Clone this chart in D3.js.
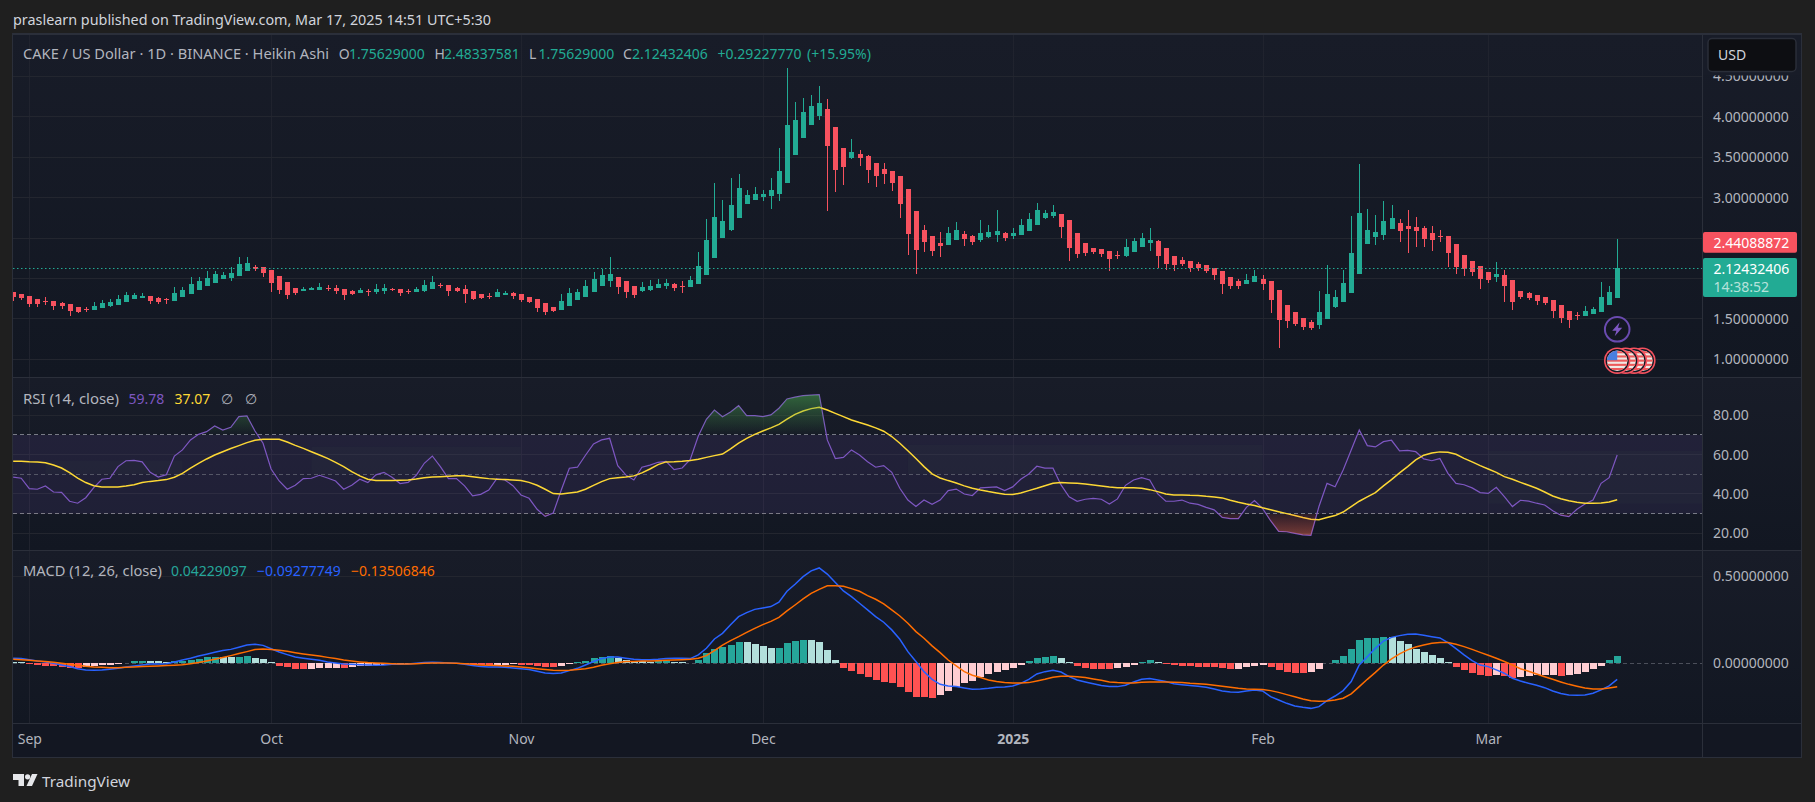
<![CDATA[<!DOCTYPE html>
<html><head><meta charset="utf-8">
<style>html,body{margin:0;padding:0;background:#1f1f1f;overflow:hidden}svg{display:block}text{font-family:"Noto Sans",sans-serif}</style>
<script src="https://cdnjs.cloudflare.com/ajax/libs/d3/7.8.5/d3.min.js"></script>
</head><body><svg id="c" width="1815" height="802"></svg>
<script>
const firstDay = "2024-08-30";
const open = [
1.831,1.806,1.781,1.744,1.720,1.720,1.695,1.683,1.645,1.621,
1.608,1.633,1.658,1.670,1.707,1.744,1.757,1.781,1.757,1.744,
1.720,1.769,1.806,1.856,1.905,1.942,1.992,2.004,2.029,2.090,
2.140,2.140,2.103,2.029,1.955,1.880,1.843,1.856,1.856,1.880,
1.880,1.868,1.843,1.819,1.843,1.831,1.843,1.868,1.868,1.843,
1.831,1.844,1.869,1.918,1.918,1.881,1.869,1.844,1.807,1.782,
1.770,1.794,1.819,1.807,1.770,1.745,1.696,1.646,1.609,1.658,
1.733,1.770,1.831,1.906,1.967,2.017,1.967,1.906,1.844,1.856,
1.881,1.906,1.930,1.906,1.893,1.930,2.042,2.252,2.499,2.598,
2.746,2.919,2.969,3.006,3.018,3.043,3.179,3.525,3.735,3.896,
4.006,4.093,3.870,3.611,3.487,3.537,3.512,3.425,3.351,3.326,
3.265,3.104,2.832,2.597,2.523,2.437,2.412,2.474,2.548,2.523,
2.474,2.511,2.535,2.560,2.523,2.535,2.585,2.659,2.746,2.770,
2.795,2.721,2.560,2.437,2.375,2.362,2.338,2.288,2.276,2.325,
2.387,2.437,2.461,2.375,2.276,2.226,2.214,2.177,2.165,2.128,
2.090,2.016,1.967,1.930,1.954,1.991,1.967,1.855,1.670,1.583,
1.509,1.460,1.423,1.497,1.645,1.707,1.818,2.053,2.424,2.510,
2.535,2.609,2.684,2.646,2.634,2.622,2.560,2.523,2.523,2.424,
2.288,2.214,2.152,2.078,2.016,2.041,1.979,1.843,1.818,1.794,
1.769,1.732,1.670,1.596,1.546,1.534,1.559,1.584,1.670,1.756];
const high = [
1.831,1.806,1.781,1.744,1.769,1.720,1.707,1.683,1.645,1.645,
1.707,1.732,1.744,1.794,1.831,1.819,1.819,1.781,1.769,1.757,
1.893,1.893,2.016,2.016,2.090,2.090,2.078,2.140,2.264,2.264,
2.165,2.140,2.103,2.029,1.955,1.880,1.893,1.893,1.942,1.917,
1.917,1.868,1.856,1.880,1.868,1.930,1.930,1.880,1.868,1.868,
1.893,1.980,2.029,1.943,1.918,1.893,1.918,1.844,1.807,1.819,
1.869,1.844,1.831,1.807,1.770,1.745,1.696,1.646,1.807,1.881,
1.869,1.980,2.079,2.116,2.264,2.017,1.967,1.906,1.955,1.980,
1.992,1.992,1.943,1.967,2.029,2.326,2.734,3.179,2.969,3.241,
3.290,3.092,3.129,3.092,3.241,3.611,4.600,4.180,4.229,4.266,
4.377,4.216,3.870,3.611,3.722,3.586,3.524,3.425,3.425,3.326,
3.265,3.104,2.832,2.659,2.523,2.572,2.634,2.696,2.585,2.535,
2.721,2.659,2.844,2.572,2.622,2.733,2.807,2.931,2.844,2.906,
2.795,2.721,2.560,2.437,2.375,2.362,2.338,2.338,2.486,2.498,
2.560,2.622,2.474,2.375,2.276,2.264,2.214,2.202,2.165,2.128,
2.090,2.016,1.991,2.053,2.103,2.041,1.967,1.855,1.670,1.583,
1.509,1.485,1.843,2.164,1.855,2.103,2.770,3.413,2.857,2.782,
2.955,2.906,2.733,2.844,2.758,2.646,2.646,2.597,2.523,2.424,
2.288,2.214,2.152,2.078,2.201,2.103,1.979,1.843,1.831,1.794,
1.769,1.732,1.670,1.596,1.583,1.658,1.645,1.954,1.905,2.483];
const low = [
1.720,1.732,1.645,1.645,1.670,1.608,1.621,1.534,1.571,1.584,
1.608,1.633,1.645,1.670,1.707,1.744,1.757,1.683,1.683,1.683,
1.720,1.769,1.806,1.856,1.905,1.942,1.992,1.967,2.029,2.090,
2.090,2.016,1.831,1.806,1.744,1.794,1.843,1.856,1.856,1.843,
1.806,1.732,1.794,1.819,1.781,1.806,1.806,1.843,1.781,1.806,
1.831,1.831,1.869,1.881,1.782,1.831,1.696,1.733,1.745,1.745,
1.770,1.794,1.745,1.708,1.696,1.584,1.547,1.584,1.609,1.658,
1.733,1.770,1.831,1.906,1.893,1.807,1.757,1.757,1.831,1.844,
1.881,1.869,1.844,1.819,1.893,1.930,2.042,2.252,2.499,2.585,
2.746,2.919,2.969,2.956,2.857,2.956,3.179,3.525,3.735,3.896,
3.957,2.832,3.067,3.153,3.475,3.388,3.178,3.129,3.166,3.079,
2.746,2.288,2.053,2.325,2.276,2.263,2.412,2.474,2.399,2.412,
2.449,2.498,2.449,2.461,2.486,2.535,2.585,2.659,2.733,2.746,
2.498,2.214,2.251,2.276,2.301,2.264,2.090,2.239,2.264,2.325,
2.387,2.338,2.128,2.103,2.090,2.152,2.078,2.090,2.066,1.979,
1.806,1.868,1.868,1.930,1.954,1.855,1.571,1.139,1.386,1.410,
1.361,1.361,1.373,1.497,1.633,1.707,1.818,2.053,2.424,2.412,
2.473,2.609,2.449,2.313,2.387,2.387,2.337,2.449,2.140,2.053,
2.028,2.028,1.868,1.942,1.954,1.707,1.608,1.744,1.732,1.670,
1.670,1.509,1.448,1.386,1.485,1.534,1.559,1.584,1.670,1.756];
const close = [
1.769,1.757,1.683,1.683,1.707,1.658,1.658,1.596,1.584,1.608,
1.658,1.695,1.707,1.744,1.794,1.794,1.781,1.720,1.707,1.732,
1.819,1.856,1.930,1.967,2.004,2.053,2.041,2.066,2.177,2.189,
2.115,2.066,1.942,1.856,1.794,1.819,1.868,1.880,1.893,1.876,
1.843,1.794,1.806,1.856,1.835,1.868,1.880,1.856,1.819,1.835,
1.868,1.918,1.955,1.910,1.844,1.844,1.807,1.745,1.757,1.774,
1.831,1.819,1.782,1.733,1.708,1.634,1.584,1.597,1.720,1.819,
1.831,1.906,1.992,2.042,2.054,1.893,1.831,1.794,1.893,1.906,
1.930,1.943,1.881,1.897,1.980,2.153,2.474,2.758,2.709,2.907,
3.117,3.030,3.043,3.043,3.092,3.327,3.896,3.957,4.056,4.130,
4.167,3.635,3.339,3.376,3.561,3.487,3.339,3.265,3.289,3.178,
2.919,2.548,2.350,2.449,2.338,2.399,2.560,2.597,2.486,2.449,
2.560,2.572,2.585,2.498,2.560,2.659,2.733,2.844,2.807,2.820,
2.634,2.375,2.301,2.313,2.325,2.301,2.239,2.280,2.387,2.461,
2.498,2.474,2.276,2.177,2.165,2.177,2.128,2.128,2.090,2.041,
1.930,1.905,1.905,1.979,2.028,1.930,1.732,1.485,1.472,1.435,
1.398,1.386,1.583,1.806,1.769,1.942,2.313,2.807,2.597,2.572,
2.708,2.745,2.585,2.609,2.585,2.486,2.473,2.515,2.313,2.140,
2.115,2.078,1.991,1.979,2.053,1.905,1.707,1.769,1.757,1.720,
1.695,1.596,1.509,1.485,1.538,1.596,1.621,1.769,1.831,2.124];
const rsi = [
48.6,48.0,42.7,42.4,44.1,41.0,40.8,36.3,35.3,38.1,
43.2,47.5,48.0,53.9,56.9,57.1,56.3,51.0,48.6,49.8,
59.3,62.4,67.5,70.3,71.7,74.6,72.5,73.9,79.3,79.7,
72.0,65.8,52.7,46.6,42.4,44.4,47.8,48.0,49.5,48.1,
46.6,42.4,44.4,47.5,45.8,49.7,51.0,48.5,45.3,45.9,
49.5,55.6,59.3,53.9,47.8,47.8,44.1,39.0,39.8,42.0,
47.8,47.1,44.2,39.5,37.8,32.2,28.6,30.3,42.0,53.1,
53.6,59.7,65.4,67.5,68.3,54.4,49.7,47.1,53.6,54.7,
56.1,56.6,52.4,53.2,57.6,69.5,78.0,82.7,79.3,81.7,
84.9,79.8,79.8,79.3,80.2,83.6,88.3,89.2,90.0,90.3,
90.5,67.5,58.0,58.6,62.4,59.8,56.4,53.6,54.4,51.0,
42.9,36.9,33.6,36.9,34.7,36.9,41.7,42.5,40.0,39.2,
43.1,43.4,43.6,41.7,43.6,47.5,50.2,54.1,53.1,53.1,
44.6,38.6,36.3,37.3,37.8,37.3,34.9,37.5,44.4,47.1,
48.3,47.1,40.0,36.3,36.3,36.9,35.3,34.7,33.2,31.9,
28.1,27.5,27.5,33.2,36.6,32.7,26.4,21.0,20.8,20.0,
19.2,19.0,33.6,45.4,43.7,52.2,62.4,72.5,64.6,63.9,
66.6,67.3,61.9,62.2,61.5,57.8,56.9,58.0,50.5,45.4,
44.7,43.1,40.7,40.3,43.4,38.6,33.6,36.8,36.4,35.3,
34.4,31.5,29.2,28.5,32.2,34.9,36.9,45.4,48.3,59.78];
const rsiMa = [
56.6,56.6,56.4,56.3,55.9,54.7,53.2,50.8,48.1,45.8,
44.2,43.6,43.6,43.6,44.1,44.7,45.8,46.4,46.8,47.3,
48.5,50.5,53.1,55.6,57.8,59.8,61.5,63.1,64.6,66.1,
67.3,67.8,67.8,67.8,66.4,64.7,63.2,61.5,59.8,58.1,
56.1,53.9,51.4,49.2,47.5,46.8,46.8,46.8,47.0,47.1,
47.6,48.3,48.6,48.8,49.0,49.2,49.2,48.8,48.3,47.8,
47.5,47.3,47.1,46.8,45.9,44.4,42.4,40.2,40.0,40.5,
41.0,42.4,44.4,46.3,47.8,48.3,48.6,49.2,50.7,52.7,
54.9,56.3,56.4,56.6,57.0,57.6,58.6,59.5,60.3,62.9,
65.8,68.3,70.3,72.0,73.6,75.4,78.0,80.5,82.2,83.4,
84.1,82.7,81.0,79.3,77.6,76.3,75.1,73.6,71.9,69.2,
65.8,62.0,58.0,53.9,50.2,48.1,46.8,45.6,44.1,42.9,
42.0,41.2,40.5,39.8,39.7,40.5,41.7,42.9,44.2,45.4,
45.8,45.6,45.4,45.1,44.6,44.1,43.6,43.2,43.2,43.1,
42.9,42.2,41.2,40.0,39.5,39.5,39.3,39.2,38.8,38.5,
38.0,36.8,35.8,34.9,34.1,33.0,32.0,31.0,30.0,29.0,
28.0,27.1,26.9,28.0,29.0,30.8,33.6,36.3,38.5,40.7,
44.1,47.3,50.7,53.9,57.3,59.7,60.8,61.4,61.2,60.2,
58.1,56.3,54.4,52.7,51.0,48.8,47.5,45.9,44.4,42.9,
41.0,39.0,37.6,36.6,35.8,35.3,35.3,35.4,35.9,37.07];
const macd = [
.029,.027,.021,.013,.008,0,-.010,-.019,-.031,-.038,
-.040,-.038,-.034,-.029,-.021,-.015,-.010,-.004,-.004,-.002,
.008,.019,.029,.042,.052,.063,.073,.080,.092,.105,
.109,.103,.084,.065,.050,.036,.029,.023,.017,.008,
.002,-.004,-.006,-.008,-.010,-.011,-.010,-.006,-.006,-.004,
0,.004,.006,.004,.002,0,-.006,-.013,-.019,-.021,
-.021,-.023,-.027,-.031,-.036,-.046,-.056,-.059,-.056,-.042,
-.029,-.010,.010,.027,.036,.036,.029,.023,.021,.021,
.023,.027,.029,.029,.027,.048,.086,.140,.172,.222,
.268,.291,.310,.318,.326,.351,.414,.454,.498,.531,
.548,.513,.464,.416,.383,.345,.307,.268,.236,.192,
.138,.067,.010,-.048,-.092,-.121,-.130,-.134,-.142,-.149,
-.148,-.144,-.138,-.136,-.130,-.115,-.092,-.061,-.048,-.040,
-.050,-.077,-.096,-.107,-.117,-.128,-.134,-.134,-.126,-.107,
-.092,-.088,-.096,-.105,-.117,-.123,-.128,-.132,-.138,-.148,
-.159,-.165,-.167,-.159,-.153,-.159,-.192,-.211,-.230,-.245,
-.253,-.259,-.249,-.215,-.188,-.157,-.105,-.010,.038,.086,
.128,.149,.159,.167,.169,.161,.153,.146,.119,.084,
.048,.015,-.010,-.019,-.038,-.057,-.086,-.102,-.115,-.126,
-.140,-.159,-.174,-.182,-.184,-.182,-.172,-.153,-.130,-.0928];
const signal = [
.023,.021,.017,.013,.010,.006,0,-.006,-.011,-.017,
-.021,-.023,-.025,-.025,-.023,-.021,-.019,-.017,-.015,-.013,
-.011,-.008,-.002,.004,.013,.023,.033,.044,.056,.067,
.079,.082,.080,.075,.069,.061,.054,.048,.042,.034,
.027,.019,.013,.008,.004,.002,0,-.002,-.004,-.004,
-.002,0,.002,.002,.002,0,-.002,-.006,-.010,-.011,
-.013,-.015,-.017,-.021,-.025,-.031,-.036,-.040,-.042,-.040,
-.036,-.031,-.023,-.011,-.002,.004,.010,.011,.013,.013,
.015,.017,.019,.021,.023,.029,.044,.073,.105,.130,
.153,.178,.201,.222,.241,.264,.301,.335,.370,.402,
.425,.445,.446,.443,.429,.414,.389,.368,.341,.307,
.272,.230,.182,.144,.100,.061,.019,-.015,-.048,-.069,
-.082,-.096,-.105,-.111,-.113,-.113,-.111,-.102,-.092,-.080,
-.075,-.075,-.077,-.082,-.090,-.098,-.107,-.111,-.113,-.113,
-.109,-.107,-.107,-.107,-.109,-.111,-.115,-.117,-.121,-.126,
-.132,-.138,-.144,-.148,-.149,-.151,-.157,-.167,-.180,-.192,
-.205,-.215,-.218,-.217,-.211,-.201,-.176,-.134,-.092,-.052,
-.010,.025,.054,.077,.094,.105,.115,.119,.119,.109,
.096,.080,.063,.046,.029,.010,-.010,-.031,-.046,-.061,
-.077,-.092,-.107,-.121,-.132,-.142,-.148,-.148,-.142,-.135];
const hist = [
.0096,.0058,-.0058,-.0096,-.0154,-.0173,-.0211,-.0250,-.0288,-.0192,
-.0154,-.0115,-.0077,-.0038,.0038,.0115,.0154,.0134,.0115,.0077,
.0115,.0154,.0211,.0269,.0346,.0365,.0355,.0346,.0384,.0422,
.0307,.0230,.0058,-.0154,-.0230,-.0307,-.0346,-.0307,-.0288,-.0278,
-.0269,-.0288,-.0230,-.0173,-.0154,-.0115,-.0096,-.0058,-.0038,-.0019,
.0010,.0019,.0038,.0019,.0010,-.0019,-.0038,-.0058,-.0096,-.0115,
-.0096,-.0077,-.0067,-.0096,-.0115,-.0173,-.0211,-.0230,-.0154,-.0058,
.0058,.0154,.0288,.0365,.0403,.0326,.0211,.0115,.0106,.0096,
.0106,.0115,.0096,.0077,.0038,.0192,.0576,.0806,.0922,.1056,
.1229,.1210,.1114,.1018,.0883,.0902,.1152,.1267,.1344,.1325,
.1229,.0768,.0192,-.0250,-.0422,-.0614,-.0806,-.0960,-.1075,-.1152,
-.1344,-.1651,-.1920,-.1939,-.1978,-.1824,-.1594,-.1382,-.1152,-.0998,
-.0806,-.0614,-.0480,-.0365,-.0250,-.0096,.0134,.0288,.0365,.0422,
.0307,.0077,-.0154,-.0250,-.0326,-.0326,-.0326,-.0288,-.0192,-.0096,
.0058,.0211,.0077,-.0058,-.0115,-.0134,-.0154,-.0192,-.0211,-.0211,
-.0269,-.0326,-.0307,-.0192,-.0134,-.0077,-.0192,-.0384,-.0499,-.0557,
-.0557,-.0499,-.0326,.0019,.0192,.0422,.0826,.1344,.1478,.1478,
.1536,.1498,.1306,.1114,.0806,.0634,.0480,.0326,.0077,-.0192,
-.0384,-.0538,-.0691,-.0710,-.0701,-.0749,-.0826,-.0806,-.0730,-.0691,
-.0682,-.0672,-.0730,-.0653,-.0614,-.0518,-.0326,-.0134,.0173,.0423];
const priceTicks = [1,1.5,3,3.5,4,4.5];
const priceGrid = [1,1.5,2,2.5,3,3.5,4,4.5];
const rsiTicks = [20,40,60,80];
const macdTicks = [0,0.5];
const monthTicks = [["2024-09-01","Sep"],["2024-10-01","Oct"],["2024-11-01","Nov"],["2024-12-01","Dec"],["2025-01-01","2025"],["2025-02-01","Feb"],["2025-03-01","Mar"]];
const rsiPatches = [["2024-09-03","2024-09-20",50,57],["2024-10-06","2024-11-01",50,64],["2024-12-19","2025-02-01",50,65],["2025-03-01","2025-04-12",35,62]];
const headerText = "praslearn published on TradingView.com, Mar 17, 2025 14:51 UTC+5:30";
const title = "CAKE / US Dollar · 1D · BINANCE · Heikin Ashi";
const lastPrice = 2.12432406;

[open,high,low,close,rsi,rsiMa,macd,signal,hist].forEach((a,k)=>{ if(a.length!==200) throw new Error("len "+k+" "+a.length); });

const UP="#22ab94", DOWN="#f7525f", GRID="#23262f", VGRID="#20232e", LINE="#2b2f3a", LABEL="#b2b5be";
const svg=d3.select("#c");
const L=13, R=1702, OUT=1801;
const P={t:35,b:377}, S={t:378,b:550}, M={t:551,b:723}, TB=757;
const parse=d3.utcParse("%Y-%m-%d");
const dates=d3.range(200).map(i=>d3.utcDay.offset(parse(firstDay),i));
const x=d3.scaleUtc().domain([parse("2024-09-01"),parse("2025-03-17")]).range([29.3,1617.2]);
const yP=d3.scaleLinear().domain([1,4.5]).range([359.3,76.3]);
const yR=d3.scaleLinear().domain([20,80]).range([533.3,415.3]);
const yM=d3.scaleLinear().domain([0,0.5]).range([663.3,576.3]);
const defs=svg.append("defs");
function grad(id,a,b){const g=defs.append("linearGradient").attr("id",id).attr("x1",0).attr("x2",0).attr("y1",0).attr("y2",1);
 g.append("stop").attr("offset",0).attr("stop-color",a);g.append("stop").attr("offset",1).attr("stop-color",b);}
grad("pane","#181c28","#121722");
const clip=(id,a,b,c,d)=>defs.append("clipPath").attr("id",id).append("rect").attr("x",a).attr("y",b).attr("width",c-a).attr("height",d-b);
clip("cP",L,P.t,R,P.b);clip("cS",L,S.t,R,S.b);clip("cM",L,M.t,R,M.b);
clip("cOb",L,S.t,R,yR(70));clip("cOs",L,yR(30),R,S.b);

// panes
[P,S,M].forEach(p=>{svg.append("rect").attr("x",L).attr("y",p.t).attr("width",OUT-L).attr("height",p.b-p.t).attr("fill","url(#pane)");});
svg.append("rect").attr("x",L).attr("y",M.b).attr("width",OUT-L).attr("height",TB-M.b).attr("fill","#131722");

// vertical grid
const gv=svg.append("g");
gv.selectAll("line").data(monthTicks).join("line").attr("x1",d=>Math.round(x(parse(d[0])))+.5).attr("x2",d=>Math.round(x(parse(d[0])))+.5).attr("y1",P.t).attr("y2",M.b).attr("stroke",VGRID);
// horizontal grid
function hgrid(vals,y){svg.append("g").selectAll("line").data(vals).join("line").attr("x1",L).attr("x2",R).attr("y1",d=>Math.floor(y(d))+.5).attr("y2",d=>Math.floor(y(d))+.5).attr("stroke",GRID);}
hgrid(priceGrid,yP);hgrid(rsiTicks,yR);hgrid(macdTicks.slice(1),yM);

// frames
const fr=svg.append("g").attr("stroke",LINE).attr("shape-rendering","crispEdges");
[[L,33.5,OUT,33.5],[L,34.5,OUT,34.5],[L,377.5,OUT,377.5],[L,550.5,OUT,550.5],[L,723.5,OUT,723.5],[L,757.5,OUT,757.5],[R+.5,35,R+.5,757],[L-.5,33,L-.5,758],[OUT+.5,33,OUT+.5,758]].forEach(a=>fr.append("line").attr("x1",a[0]).attr("y1",a[1]).attr("x2",a[2]).attr("y2",a[3]));

// candles
const gC=svg.append("g").attr("clip-path","url(#cP)").attr("shape-rendering","crispEdges");
const px=i=>Math.round(x(dates[i]));
const col=i=>close[i]>=open[i]?UP:DOWN;
gC.selectAll("rect.w").data(d3.range(200)).join("rect").attr("class","w").attr("x",i=>px(i)).attr("width",1).attr("y",i=>yP(high[i])).attr("height",i=>yP(low[i])-yP(high[i])).attr("fill",col);
gC.selectAll("rect.b").data(d3.range(200)).join("rect").attr("class","b").attr("x",i=>px(i)-2).attr("width",5).attr("y",i=>yP(Math.max(open[i],close[i]))).attr("height",i=>Math.max(1,Math.abs(yP(open[i])-yP(close[i])))).attr("fill",col);
// last price dotted
svg.append("line").attr("x1",L).attr("x2",R).attr("y1",Math.round(yP(lastPrice))+.5).attr("y2",Math.round(yP(lastPrice))+.5).attr("stroke",UP).attr("stroke-dasharray","1.5 2.5");

// RSI
const gS=svg.append("g").attr("clip-path","url(#cS)");
gS.append("rect").attr("x",L).attr("width",R-L).attr("y",yR(70)).attr("height",yR(30)-yR(70)).attr("fill","rgba(126,87,194,0.12)");
gS.selectAll("rect.p").data(rsiPatches).join("rect").attr("class","p").attr("x",d=>x(parse(d[0]))).attr("width",d=>Math.min(R,x(parse(d[1])))-x(parse(d[0]))).attr("y",d=>yR(d[3])).attr("height",d=>yR(d[2])-yR(d[3])).attr("fill","rgba(70,110,80,0.06)");
[[70,"#787b86"],[50,"rgba(120,123,134,.6)"],[30,"#787b86"]].forEach(d=>gS.append("line").attr("x1",L).attr("x2",R).attr("y1",Math.floor(yR(d[0]))+.5).attr("y2",Math.floor(yR(d[0]))+.5).attr("stroke",d[1]).attr("stroke-dasharray","4 3"));
const area=(lv)=>d3.area().x((d,i)=>x(dates[i])).y0(yR(lv)).y1(d=>yR(d));
const ob=defs.append("linearGradient").attr("id","obGU").attr("gradientUnits","userSpaceOnUse").attr("x1",0).attr("x2",0).attr("y1",yR(91)).attr("y2",yR(70));
ob.append("stop").attr("offset",0).attr("stop-color","rgba(76,175,80,0.5)");ob.append("stop").attr("offset",1).attr("stop-color","rgba(76,175,80,0)");
svg.append("path").datum(rsi).attr("clip-path","url(#cOb)").attr("d",area(70)).attr("fill","url(#obGU)");
const os=defs.append("linearGradient").attr("id","osGU").attr("gradientUnits","userSpaceOnUse").attr("x1",0).attr("x2",0).attr("y1",yR(30)).attr("y2",yR(19));
os.append("stop").attr("offset",0).attr("stop-color","rgba(255,82,82,0.1)");os.append("stop").attr("offset",1).attr("stop-color","rgba(255,112,82,0.42)");
svg.append("path").datum(rsi).attr("clip-path","url(#cOs)").attr("d",area(30)).attr("fill","url(#osGU)");
const ln=y=>d3.line().x((d,i)=>x(dates[i])).y(d=>y(d));
gS.append("path").datum(rsi).attr("d",ln(yR)).attr("fill","none").attr("stroke","#7e57c2").attr("stroke-width",1.2);
gS.append("path").datum(rsiMa).attr("d",ln(yR)).attr("fill","none").attr("stroke","#fdd835").attr("stroke-width",1.5);

// MACD
const gM=svg.append("g").attr("clip-path","url(#cM)");
gM.append("line").attr("x1",L).attr("x2",R).attr("y1",Math.floor(yM(0))+.5).attr("y2",Math.floor(yM(0))+.5).attr("stroke","rgba(120,123,134,.55)").attr("stroke-dasharray","4 3");
const hcol=i=>{const h=hist[i],p=i?hist[i-1]:Infinity; return h>=0?(h>=p?"#26a69a":"#b2dfdb"):(h<=p?"#ff5252":"#ffcdd2");};
gM.append("g").attr("shape-rendering","crispEdges").selectAll("rect").data(d3.range(200)).join("rect").attr("x",i=>px(i)-3).attr("width",7).attr("y",i=>Math.min(yM(0),yM(hist[i]))).attr("height",i=>Math.abs(yM(hist[i])-yM(0))).attr("fill",hcol);
gM.append("path").datum(macd).attr("d",ln(yM)).attr("fill","none").attr("stroke","#2962ff").attr("stroke-width",1.5);
gM.append("path").datum(signal).attr("d",ln(yM)).attr("fill","none").attr("stroke","#ff6d00").attr("stroke-width",1.5);

// axes
const F14="14px";
function yAxis(scale,vals,fmt){const g=svg.append("g").attr("transform",`translate(${R},0)`).call(d3.axisRight(scale).tickValues(vals).tickFormat(fmt).tickSize(0).tickPadding(11));
 g.select(".domain").remove();g.selectAll("text").attr("fill",LABEL).attr("font-size",F14).style("font-family",'"Noto Sans",sans-serif');}
const f8=d3.format(".8f"), f2=d3.format(".2f");
yAxis(yP,priceTicks,f8);yAxis(yR,rsiTicks,f2);yAxis(yM,macdTicks,f8);
const xa=svg.append("g").attr("transform",`translate(0,${M.b})`).call(d3.axisBottom(x).tickValues(monthTicks.map(d=>parse(d[0]))).tickFormat((d,i)=>monthTicks[i][1]).tickSize(0).tickPadding(11));
xa.select(".domain").remove();
xa.selectAll("text").attr("fill",LABEL).attr("font-size",F14).style("font-family",'"Noto Sans",sans-serif').attr("font-weight",(d,i)=>monthTicks[i][1]==="2025"?700:400);

// header + legends
const T=(x0,y0,s,c,len)=>{const t=svg.append("text").attr("x",x0).attr("y",y0).attr("dominant-baseline","central").attr("fill",c).attr("font-size",14).text(s);
 if(len) t.attr("textLength",len).attr("lengthAdjust","spacingAndGlyphs"); return t;};
T(13,19.5,headerText,"#d1d4dc",478);
T(23,53.5,title,"#b2b5be",306);
const lg=[[338.7,"O",LABEL],[349,"1.75629000",UP],[434.6,"H",LABEL],[444,"2.48337581",UP],[529,"L",LABEL],[538.5,"1.75629000",UP],[623,"C",LABEL],[632,"2.12432406",UP],[717.6,"+0.29227770",UP],[807,"(+15.95%)",UP]];
lg.forEach(d=>T(d[0],53.5,d[1],d[2]));
T(23,398,"RSI (14, close)",LABEL,96);T(128.6,398,"59.78","#7e57c2");T(174.5,398,"37.07","#fdd835");T(221,398,"∅",LABEL);T(245,398,"∅",LABEL);
T(23,570.7,"MACD (12, 26, close)",LABEL,139);T(171,570.7,"0.04229097","#26a69a");T(257,570.7,"−0.09277749","#2962ff");T(351,570.7,"−0.13506846","#ff6d00");

// USD button with its backing that hides the top of the 4.5 label
svg.append("rect").attr("x",1703).attr("y",35).attr("width",97).attr("height",40.5).attr("fill","#181c28");
svg.append("rect").attr("x",1708).attr("y",38.5).attr("width",88).attr("height",33).attr("rx",4).attr("fill","#0d0e12").attr("stroke","#2a2e39").attr("stroke-width",1.5);
T(1718,54.5,"USD","#d1d4dc");

// price tags
svg.append("rect").attr("x",1703).attr("y",232).attr("width",94).attr("height",20.7).attr("rx",2).attr("fill",DOWN);
T(1713.5,242.7,"2.44088872","#ffffff");
svg.append("rect").attr("x",1703).attr("y",258).attr("width",94).attr("height",39).attr("rx",2).attr("fill",UP);
T(1713.5,268.6,"2.12432406","#ffffff");
T(1713.5,286.7,"14:38:52","rgba(255,255,255,.68)");

// event icons
const lastX=x(dates[199]);
svg.append("circle").attr("cx",lastX).attr("cy",329.3).attr("r",12.3).attr("fill","#131722").attr("stroke","#6a4bb0").attr("stroke-width",2);
svg.append("path").attr("transform",`translate(${lastX},329.3)`).attr("d","M2.5,-7 L-5,1.5 L-0.8,1.5 L-2.5,7 L5,-1.5 L0.8,-1.5 Z").attr("fill","#7e57c2");
[3,2,1,0].forEach(k=>{const cx=lastX+k*8.4,cy=360.7;
 defs.append("clipPath").attr("id","fl"+k).append("circle").attr("cx",cx).attr("cy",cy).attr("r",10.3);
 svg.append("circle").attr("cx",cx).attr("cy",cy).attr("r",13.2).attr("fill",DOWN);
 svg.append("circle").attr("cx",cx).attr("cy",cy).attr("r",11.6).attr("fill","#131722");
 const g=svg.append("g").attr("clip-path",`url(#fl${k})`);
 g.append("rect").attr("x",cx-11).attr("y",cy-11).attr("width",22).attr("height",22).attr("fill","#f0e8e4");
 d3.range(5).forEach(j=>g.append("rect").attr("x",cx-11).attr("y",cy-9.5+j*4.2).attr("width",22).attr("height",2.1).attr("fill","#ec5a5a"));
 g.append("rect").attr("x",cx-11).attr("y",cy-11).attr("width",11).attr("height",10.5).attr("fill","#4a7fe0");
});

// logo
const lgo=svg.append("g").attr("fill","#e6e7ea");
lgo.append("path").attr("d","M13,774 H24 V786 H18.5 V780 H13 Z");
lgo.append("circle").attr("cx",27.6).attr("cy",776.8).attr("r",2.6);
lgo.append("path").attr("d","M32,774 H37.5 L32,786 H26.5 Z");
T(42,781.7,"TradingView","#d1d4dc",88);
</script></body></html>]]>
